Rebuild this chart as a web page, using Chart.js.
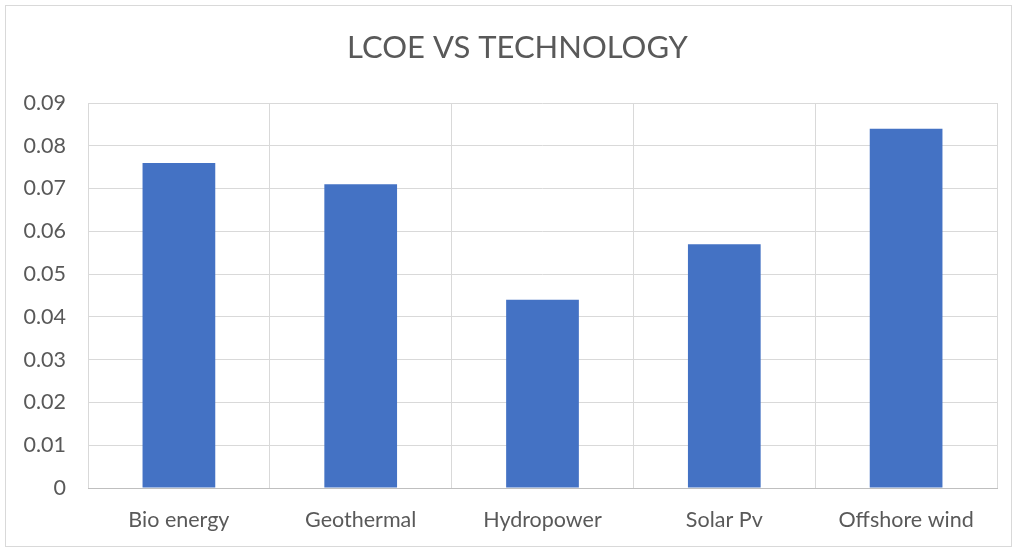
<!DOCTYPE html>
<html>
<head>
<meta charset="utf-8">
<script src="https://cdn.jsdelivr.net/npm/chart.js@4"></script>
<style>
  html, body { margin: 0; padding: 0; background: #ffffff; }
  #wrap { position: absolute; left: 0; top: 0; width: 1015px; height: 548px; }
</style>
</head>
<body>
<div id="wrap"><canvas id="c" width="1015" height="548"></canvas></div>
<script>
const categories = ["Bio energy", "Geothermal", "Hydropower", "Solar Pv", "Offshore wind"];
const lcoeValues = [0.076, 0.071, 0.044, 0.057, 0.084];
const yTickValues = [0, 0.01, 0.02, 0.03, 0.04, 0.05, 0.06, 0.07, 0.08, 0.09];
const chartTitle = "LCOE VS TECHNOLOGY";

const FONT = "Lato, 'Open Sans', sans-serif";
const TEXT = "#595959";

const borderPlugin = {
  id: 'outerBorder',
  beforeDraw(chart) {
    const ctx = chart.ctx;
    ctx.save();
    ctx.fillStyle = '#ffffff';
    ctx.fillRect(0, 0, chart.width, chart.height);
    ctx.strokeStyle = '#d9d9d9';
    ctx.lineWidth = 1;
    ctx.strokeRect(5.5, 5.5, 1006, 541);
    ctx.restore();
  },
  afterDraw(chart) {
    const ctx = chart.ctx;
    ctx.save();
    ctx.fillStyle = TEXT;
    ctx.font = "normal 31px " + FONT;
    ctx.textAlign = 'center';
    ctx.textBaseline = 'middle';
    ctx.fillText(chartTitle, 517.5, 48);
    ctx.restore();
  }
};

new Chart(document.getElementById('c'), {
  type: 'bar',
  data: {
    labels: categories,
    datasets: [{
      label: 'LCOE',
      data: lcoeValues,
      backgroundColor: '#4472c4',
      borderWidth: 0,
      categoryPercentage: 1.0,
      barPercentage: 0.4
    }]
  },
  options: {
    responsive: false,
    animation: false,
    layout: { padding: { left: 0, right: 18, top: 103, bottom: 0 } },
    plugins: {
      legend: { display: false },
      tooltip: { enabled: false },
      title: { display: false }
    },
    scales: {
      x: {
        grid: { color: '#d9d9d9', lineWidth: 1, drawTicks: false, offset: true },
        border: { display: true, color: '#bfbfbf', width: 1 },
        ticks: { color: TEXT, font: { family: FONT, size: 21.5 }, padding: 19, maxRotation: 0 },
        afterFit(scale) { scale.height = 60; }
      },
      y: {
        min: 0,
        max: 0.09,
        afterBuildTicks(scale) { scale.ticks = yTickValues.map(v => ({ value: v })); },
        grid: { color: '#d9d9d9', lineWidth: 1, drawTicks: false },
        border: { display: false },
        ticks: {
          color: TEXT,
          font: { family: FONT, size: 21.5 },
          padding: 22,
          callback: (v) => (v === 0 ? '0' : v.toFixed(2))
        },
        afterFit(scale) { scale.width = 88; }
      }
    }
  },
  plugins: [borderPlugin]
});
</script>
</body>
</html>
